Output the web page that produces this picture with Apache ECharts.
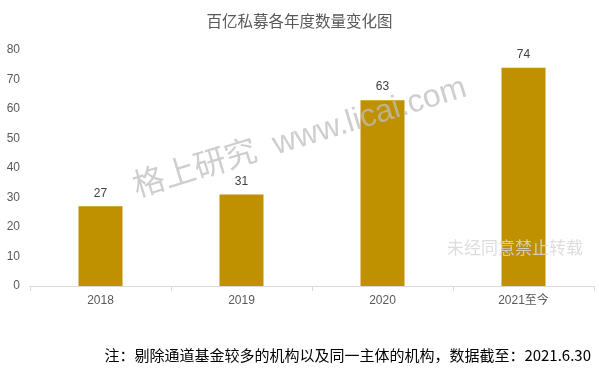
<!DOCTYPE html>
<html><head><meta charset="utf-8">
<script src="https://cdn.jsdelivr.net/npm/echarts@6/dist/echarts.min.js"></script>
<style>html,body{margin:0;padding:0;background:#fff}#c{width:599px;height:373px}</style>
</head><body><div id="c"></div>
<script>
const categories = ['2018', '2019', '2020', '2021至今'];
const counts = [27, 31, 63, 74];
const yTicks = [0, 10, 20, 30, 40, 50, 60, 70, 80];
const titleText = '百亿私募各年度数量变化图';
const noteText = '注：剔除通道基金较多的机构以及同一主体的机构，数据截至：2021.6.30';
const watermark1 = '格上研究  www.licai.com';
const watermark2 = '未经同意禁止转载';

const FONT = '"Liberation Sans", "Noto Sans CJK SC", sans-serif';
const chart = echarts.init(document.getElementById('c'));
chart.setOption({
  animation: false,
  title: {text: titleText, left: 'center', top: 10,
    textStyle: {fontSize: 15.5, fontWeight: 'normal', color: '#595959', fontFamily: FONT}},
  grid: {left: 30, right: 5, top: 50, bottom: 87},
  xAxis: {type: 'category', data: categories,
    axisLine: {lineStyle: {color: '#d9d9d9'}},
    axisTick: {show: true, lineStyle: {color: '#d9d9d9'}},
    axisLabel: {color: '#595959', fontSize: 12, margin: 9, fontFamily: FONT}},
  yAxis: {type: 'value', min: yTicks[0], max: yTicks[yTicks.length - 1], interval: 10,
    splitLine: {show: false}, axisLine: {show: false}, axisTick: {show: false},
    axisLabel: {color: '#595959', fontSize: 12, margin: 10, fontFamily: FONT}},
  series: [{type: 'bar', data: counts, barWidth: 44, z: 2,
    itemStyle: {color: '#BF9000'},
    label: {show: true, position: 'top', distance: 7, color: '#404040', fontSize: 12, fontFamily: FONT}}],
  graphic: [
    {type: 'text', x: 300, y: 138, rotation: 17 * Math.PI / 180, z: 100,
      style: {text: watermark1, fill: 'rgba(190,190,190,0.75)', font: '32px "Liberation Sans", "Noto Sans CJK SC", sans-serif',
        textAlign: 'center', textVerticalAlign: 'middle'}},
    {type: 'text', x: 515, y: 248, z: 100,
      style: {text: watermark2, fill: 'rgba(215,215,215,0.85)', font: '17px "Noto Sans CJK SC", sans-serif',
        textAlign: 'center', textVerticalAlign: 'middle'}},
    {type: 'text', x: 591, y: 355, z: 100,
      style: {text: noteText, fill: '#000', font: '15px "Noto Sans CJK SC", sans-serif',
        textAlign: 'right', textVerticalAlign: 'middle'}}
  ]
});
</script></body></html>
